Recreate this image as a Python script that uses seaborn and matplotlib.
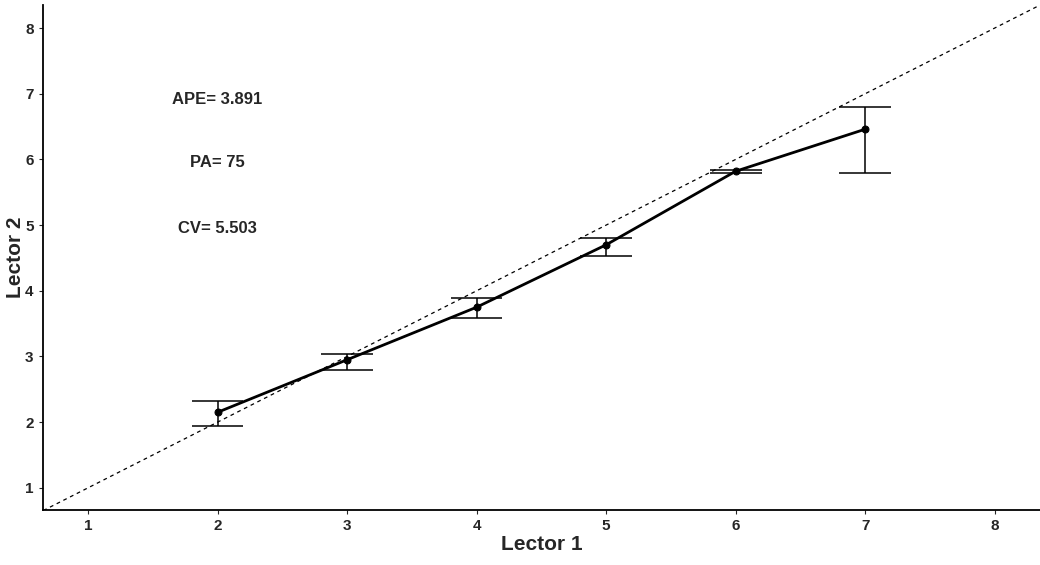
import numpy as np
import pandas as pd
import matplotlib
matplotlib.use("Agg")
import matplotlib.pyplot as plt
import seaborn as sns

# age read by lector 1 vs mean age read by lector 2
lector1 = [2, 3, 4, 5, 6, 7]
lector2_mean = [2.15, 2.95, 3.75, 4.70, 5.82, 6.46]
lector2_low = [1.94, 2.80, 3.58, 4.53, 5.80, 5.80]
lector2_high = [2.32, 3.04, 3.89, 4.81, 5.84, 6.80]

stats_labels = ["APE= 3.891", "PA= 75", "CV= 5.503"]
stats_y = [6.92, 5.95, 4.95]

df = pd.DataFrame({"Lector 1": lector1, "Lector 2": lector2_mean,
                   "low": lector2_low, "high": lector2_high})

sns.set_style("ticks")
plt.rcParams['font.family'] = ['Liberation Sans', 'DejaVu Sans']

fig = plt.figure(figsize=(10.4, 5.65), dpi=100)
ax = fig.add_axes([0.041, 0.097, 0.959, 0.894])

# 1:1 reference line
ref = np.array([0.5, 8.5])
ax.plot(ref, ref, color='black', linestyle=(0, (3, 3)), linewidth=0.9)

# error bars with caps
ax.vlines(df["Lector 1"], df["low"], df["high"], color='black', linewidth=1.1)
ax.hlines(df["low"], df["Lector 1"] - 0.2, df["Lector 1"] + 0.2, color='black', linewidth=1.1)
ax.hlines(df["high"], df["Lector 1"] - 0.2, df["Lector 1"] + 0.2, color='black', linewidth=1.1)

sns.lineplot(data=df, x="Lector 1", y="Lector 2", ax=ax, color='black',
             linewidth=2, marker='o', markersize=5, markeredgecolor='black')

for lab, yy in zip(stats_labels, stats_y):
    ax.text(2.0, yy, lab, ha='center', va='center', fontsize=12, fontweight='bold')

ax.set_xlim(0.65, 8.35)
ax.set_ylim(0.66, 8.35)
ax.set_xticks(range(1, 9))
ax.set_yticks(range(1, 9))
ax.tick_params(length=3, width=0.8, labelsize=11)
for t in ax.get_xticklabels() + ax.get_yticklabels():
    t.set_fontweight('bold')
ax.set_xlabel("Lector 1", fontsize=15, fontweight='bold', labelpad=1)
ax.set_ylabel("Lector 2", fontsize=15, fontweight='bold', labelpad=0)
sns.despine(ax=ax)
for s in ax.spines.values():
    s.set_linewidth(1.3)
    s.set_color('black')

fig.savefig("out.png", dpi=100)
